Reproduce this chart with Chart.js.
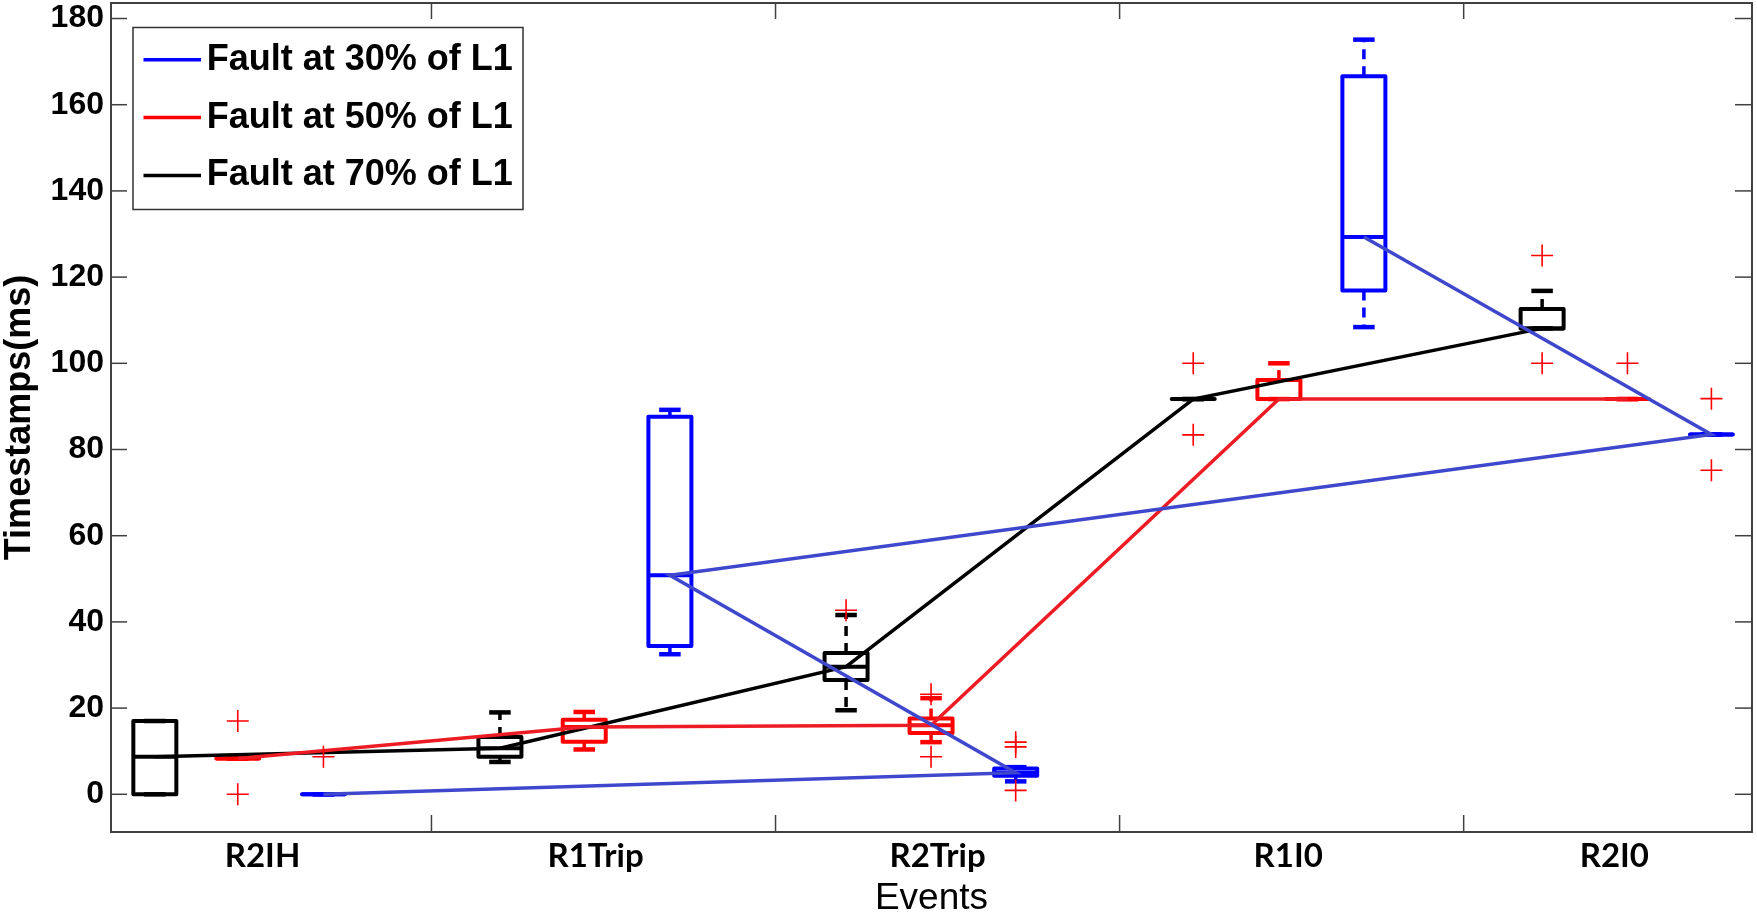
<!DOCTYPE html>
<html lang="en">
<head>
    <meta charset="UTF-8">
    <title>Timestamps per event</title>
    <script src="https://cdn.jsdelivr.net/npm/chart.js@4.4.1/dist/chart.umd.min.js"></script>
    <style>
        html, body {
            margin: 0;
            padding: 0;
            background-color: #ffffff;
        }

        .chart-wrap {
            position: relative;
            width: 1757px;
            height: 915px;
        }
    </style>
</head>
<body>
    <div class="chart-wrap">
        <canvas id="boxChart"></canvas>
    </div>
    <script>
        // events and where their labels sit on the x axis
        const events = ['R2IH', 'R1Trip', 'R2Trip', 'R1I0', 'R2I0'];
        const eventLabelPos = [0.509, 1.477, 2.471, 3.49, 4.438];
        const xTickMarks = [1, 2, 3, 4];
        const yTicks = [0, 20, 40, 60, 80, 100, 120, 140, 160, 180];
        const seriesNames = ['Fault at 30% of L1', 'Fault at 50% of L1', 'Fault at 70% of L1'];

        // Fault at 30% of L1 (one box per event)
        const f30Pos = [0.686, 1.693, 2.698, 3.710, 4.720];
        const f30Lo  = [0, 32.5, 3.0, 108.4, 83.5];
        const f30Q1  = [0, 34.4, 4.3, 116.9, 83.5];
        const f30Med = [0, 50.8, 5.0, 129.3, 83.5];
        const f30Q3  = [0, 87.6, 6.0, 166.6, 83.5];
        const f30Hi  = [0, 89.2, 6.3, 175.1, 83.5];
        const f30Out = [[8.7], [], [12.1, 11.0, 0.9], [], [91.8, 75.2]];
        const f30Order = [0, 2, 1, 4, 3]; // order the median line visits the boxes

        // Fault at 50% of L1
        const f50Pos = [0.437, 1.444, 2.452, 3.463, 4.476];
        const f50Lo  = [8.3, 10.4, 12.1, 91.7, 91.7];
        const f50Q1  = [8.3, 12.2, 14.2, 91.7, 91.7];
        const f50Med = [8.3, 15.6, 16.0, 91.7, 91.7];
        const f50Q3  = [8.3, 17.3, 17.6, 96.1, 91.7];
        const f50Hi  = [8.3, 19.1, 22.3, 100.0, 91.7];
        const f50Out = [[17.0, 0.0], [], [23.2, 8.7], [], [100.0]];
        const f50Order = [0, 1, 2, 3, 4];

        // Fault at 70% of L1
        const f70Pos = [0.196, 1.199, 2.205, 3.214, 4.228];
        const f70Lo  = [0, 7.5, 19.5, 91.7, 108.1];
        const f70Q1  = [0, 8.7, 26.5, 91.7, 108.1];
        const f70Med = [8.7, 10.7, 29.6, 91.7, 108.1];
        const f70Q3  = [17.0, 13.3, 32.8, 91.7, 112.6];
        const f70Hi  = [17.0, 19.0, 41.6, 91.7, 116.8];
        const f70Out = [[], [], [42.7], [100.0, 83.4], [125.0, 100.0]];
        const f70Order = [0, 1, 2, 3, 4];

        // styles
        const boxColors = ['#0000ff', '#ff0000', '#000000'];
        const lineColors = ['#3f48cc', '#ed1c24', '#000000'];
        const BOX_W = 0.125;
        const AXIS_COLOR = '#404040';
        const ARIAL = '"Liberation Sans", Arial, sans-serif';

        const boxSets = [
            { pos: f30Pos, lo: f30Lo, q1: f30Q1, med: f30Med, q3: f30Q3, hi: f30Hi, out: f30Out, order: f30Order },
            { pos: f50Pos, lo: f50Lo, q1: f50Q1, med: f50Med, q3: f50Q3, hi: f50Hi, out: f50Out, order: f50Order },
            { pos: f70Pos, lo: f70Lo, q1: f70Q1, med: f70Med, q3: f70Q3, hi: f70Hi, out: f70Out, order: f70Order }
        ];

        function medianLine(s) {
            return s.order.map(i => ({ x: s.pos[i], y: s.med[i] }));
        }

        function outlierPoints() {
            var pts = [];
            boxSets.forEach(s => {
                s.out.forEach((vals, i) => {
                    vals.forEach(v => pts.push({ x: s.pos[i], y: v }));
                });
            });
            return pts;
        }

        function seg(ctx, x1, y1, x2, y2) {
            ctx.beginPath();
            ctx.moveTo(x1, y1);
            ctx.lineTo(x2, y2);
            ctx.stroke();
        }

        // boxes, whiskers and caps, drawn under the median lines
        const boxPlotPlugin = {
            id: 'boxPlot',
            beforeDatasetsDraw(chart) {
                const ctx = chart.ctx;
                const x = chart.scales.x, y = chart.scales.y;
                ctx.save();
                boxSets.forEach((s, k) => {
                    ctx.strokeStyle = boxColors[k];
                    s.pos.forEach((p, i) => {
                        const xl = x.getPixelForValue(p - BOX_W / 2);
                        const xr = x.getPixelForValue(p + BOX_W / 2);
                        const xc = x.getPixelForValue(p);
                        const cl = x.getPixelForValue(p - BOX_W / 4);
                        const cr = x.getPixelForValue(p + BOX_W / 4);
                        const yLo = y.getPixelForValue(s.lo[i]);
                        const yQ1 = y.getPixelForValue(s.q1[i]);
                        const yMed = y.getPixelForValue(s.med[i]);
                        const yQ3 = y.getPixelForValue(s.q3[i]);
                        const yHi = y.getPixelForValue(s.hi[i]);

                        ctx.lineWidth = 3.5;
                        ctx.setLineDash([10, 7]);
                        if (s.hi[i] > s.q3[i]) seg(ctx, xc, yQ3, xc, yHi);
                        if (s.lo[i] < s.q1[i]) seg(ctx, xc, yQ1, xc, yLo);
                        ctx.setLineDash([]);

                        ctx.lineWidth = 4.5;
                        seg(ctx, cl, yHi, cr, yHi);
                        seg(ctx, cl, yLo, cr, yLo);

                        ctx.lineWidth = 4;
                        ctx.lineJoin = 'round';
                        ctx.strokeRect(xl, yQ3, xr - xl, yQ1 - yQ3);
                        seg(ctx, xl, yMed, xr, yMed);
                    });
                });
                ctx.restore();
            }
        };

        // full frame with inward tick marks on all four sides
        const framePlugin = {
            id: 'frame',
            afterDatasetsDraw(chart) {
                const ctx = chart.ctx, ca = chart.chartArea;
                const x = chart.scales.x, y = chart.scales.y;
                ctx.save();
                ctx.strokeStyle = AXIS_COLOR;
                ctx.lineWidth = 1.5;
                yTicks.forEach(v => {
                    const py = y.getPixelForValue(v);
                    seg(ctx, ca.left, py, ca.left + 16, py);
                    seg(ctx, ca.right - 17, py, ca.right, py);
                });
                xTickMarks.forEach(v => {
                    const px = x.getPixelForValue(v);
                    seg(ctx, px, ca.top, px, ca.top + 16);
                    seg(ctx, px, ca.bottom - 17, px, ca.bottom);
                });
                ctx.lineWidth = 2;
                ctx.strokeRect(ca.left, ca.top, ca.right - ca.left, ca.bottom - ca.top);
                ctx.restore();
            }
        };

        // boxed legend in the upper left corner of the plot
        const legendBoxPlugin = {
            id: 'legendBox',
            afterDraw(chart) {
                const ctx = chart.ctx, ca = chart.chartArea;
                const left = ca.left + 22, top = ca.top + 24.5, w = 390, h = 182;
                ctx.save();
                ctx.fillStyle = '#ffffff';
                ctx.fillRect(left, top, w, h);
                ctx.strokeStyle = '#333333';
                ctx.lineWidth = 1.5;
                ctx.strokeRect(left, top, w, h);
                ctx.font = 'bold 36px ' + ARIAL;
                ctx.textBaseline = 'middle';
                ctx.textAlign = 'left';
                seriesNames.forEach((name, i) => {
                    const cy = top + 32.3 + i * 57.8;
                    ctx.strokeStyle = boxColors[i];
                    ctx.lineWidth = 3.5;
                    seg(ctx, left + 10.5, cy, left + 68, cy);
                    ctx.fillStyle = '#000000';
                    ctx.fillText(name, left + 73.7, cy);
                });
                ctx.restore();
            }
        };

        Chart.defaults.color = '#000000';

        var ctx = document.getElementById('boxChart').getContext('2d');
        var boxChart = new Chart(ctx, {
            type: 'line',
            data: {
                datasets: [
                    {
                        type: 'scatter',
                        label: 'Outliers',
                        data: outlierPoints(),
                        pointStyle: 'cross',
                        pointRadius: 11,
                        borderColor: '#ff0000',
                        borderWidth: 1.6
                    },
                    {
                        label: seriesNames[0],
                        data: medianLine(boxSets[0]),
                        borderColor: lineColors[0],
                        borderWidth: 3.5,
                        pointRadius: 0,
                        tension: 0,
                        fill: false
                    },
                    {
                        label: seriesNames[1],
                        data: medianLine(boxSets[1]),
                        borderColor: lineColors[1],
                        borderWidth: 3.5,
                        pointRadius: 0,
                        tension: 0,
                        fill: false
                    },
                    {
                        label: seriesNames[2],
                        data: medianLine(boxSets[2]),
                        borderColor: lineColors[2],
                        borderWidth: 3.5,
                        pointRadius: 0,
                        tension: 0,
                        fill: false
                    }
                ]
            },
            options: {
                responsive: true,
                maintainAspectRatio: false,
                animation: false,
                layout: {
                    autoPadding: false,
                    padding: { left: 0, top: 3, right: 5, bottom: 0 }
                },
                plugins: {
                    legend: { display: false },
                    tooltip: { enabled: false }
                },
                scales: {
                    x: {
                        type: 'linear',
                        min: 0.0686,
                        max: 4.838,
                        grid: { display: false, drawTicks: false },
                        border: { display: false },
                        afterBuildTicks: function (scale) {
                            scale.ticks = eventLabelPos.map(v => ({ value: v }));
                        },
                        afterFit: function (scale) {
                            scale.height = 83;
                            scale.paddingLeft = 0;
                            scale.paddingRight = 0;
                        },
                        ticks: {
                            autoSkip: false,
                            maxRotation: 0,
                            minRotation: 0,
                            padding: 5,
                            font: { family: 'Lato, "Open Sans", sans-serif', size: 33, weight: 'bold' },
                            callback: function (value, index) {
                                return events[index];
                            }
                        },
                        title: {
                            display: true,
                            text: 'Events',
                            padding: { top: 0, bottom: 1 },
                            font: { family: ARIAL, size: 37, weight: 'normal', lineHeight: 0.8 }
                        }
                    },
                    y: {
                        type: 'linear',
                        min: -8.75,
                        max: 183.6,
                        grid: { display: false, drawTicks: false },
                        border: { display: false },
                        afterBuildTicks: function (scale) {
                            scale.ticks = yTicks.map(v => ({ value: v }));
                        },
                        afterFit: function (scale) {
                            scale.width = 111;
                            scale.paddingTop = 0;
                            scale.paddingBottom = 0;
                        },
                        ticks: {
                            padding: 7,
                            font: { family: ARIAL, size: 32, weight: 'bold' }
                        },
                        title: {
                            display: true,
                            text: 'Timestamps(ms)',
                            padding: { top: 2, bottom: 0 },
                            font: { family: ARIAL, size: 36, weight: 'bold', lineHeight: 1 }
                        }
                    }
                }
            },
            plugins: [boxPlotPlugin, framePlugin, legendBoxPlugin]
        });
    </script>
</body>
</html>
